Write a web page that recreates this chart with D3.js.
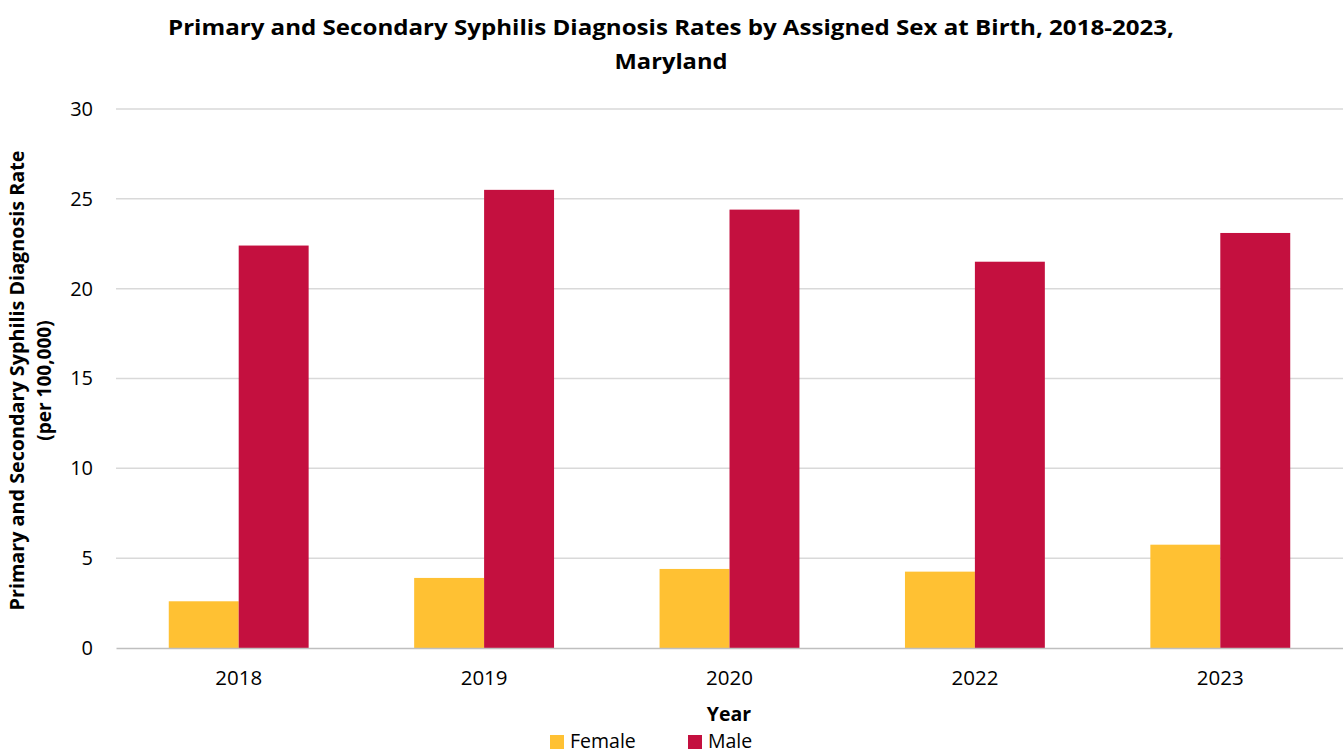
<!DOCTYPE html>
<html>
<head>
<meta charset="utf-8">
<script src="https://cdn.jsdelivr.net/npm/d3@7"></script>
<style>
  body { margin: 0; background: #fff; }
  text { font-family: "Open Sans", sans-serif; fill: #000; }
</style>
</head>
<body>
<script>
// chart data
var years = ["2018", "2019", "2020", "2022", "2023"];
var seriesNames = ["Female", "Male"];
var female = [2.6, 3.9, 4.4, 4.25, 5.75];
var male = [22.4, 25.5, 24.4, 21.5, 23.1];
var yTicks = [0, 5, 10, 15, 20, 25, 30];

var colors = { Female: "#FFC133", Male: "#C4103F" };

var W = 1343, H = 755;
var margin = {top: 109, right: 0, bottom: 107, left: 116};
var w = W - margin.left - margin.right;
var h = H - margin.top - margin.bottom;

var svg = d3.select("body").append("svg")
    .attr("width", W)
    .attr("height", H);

var g = svg.append("g")
    .attr("transform", "translate(" + margin.left + "," + margin.top + ")");

var yScale = d3.scaleLinear().domain([0, 30]).range([h, 0]);
var xScale = d3.scaleBand().domain(years).range([0, w]).paddingInner(0.43).paddingOuter(0.215);
var xSub = d3.scaleBand().domain(seriesNames).range([0, xScale.bandwidth()]);

// gridlines
g.selectAll(".grid")
  .data(yTicks.filter(function(d) { return d > 0; }))
  .enter().append("line")
    .attr("class", "grid")
    .attr("x1", 0).attr("x2", w)
    .attr("y1", function(d) { return yScale(d); })
    .attr("y2", function(d) { return yScale(d); })
    .attr("stroke", "#d9d9d9")
    .attr("stroke-width", 1.5);

// y axis labels
var yAxis = d3.axisLeft(yScale).tickValues(yTicks).tickSize(0).tickPadding(23);
g.append("g").attr("class", "y-axis").call(yAxis)
  .call(function(s) { s.select(".domain").remove(); })
  .selectAll("text")
    .style("font-size", "20px")
    .attr("fill", "#000");

// bars
var rows = years.map(function(y, i) { return {year: y, Female: female[i], Male: male[i]}; });
g.selectAll(".grp")
  .data(rows)
  .enter().append("g")
    .attr("class", "grp")
    .attr("transform", function(d) { return "translate(" + xScale(d.year) + ",0)"; })
  .selectAll("rect")
  .data(function(d) { return seriesNames.map(function(k) { return {key: k, value: d[k]}; }); })
  .enter().append("rect")
    .attr("x", function(d) { return xSub(d.key); })
    .attr("y", function(d) { return yScale(d.value); })
    .attr("width", xSub.bandwidth())
    .attr("height", function(d) { return h - yScale(d.value); })
    .attr("fill", function(d) { return colors[d.key]; });

// x axis
var xAxis = d3.axisBottom(xScale).tickSize(0).tickPadding(22);
g.append("g").attr("class", "x-axis")
  .attr("transform", "translate(0," + h + ")")
  .call(xAxis)
  .call(function(s) { s.select(".domain").attr("stroke", "#bfbfbf").attr("stroke-width", 1.5); })
  .selectAll("text")
    .style("font-size", "20.5px")
    .attr("fill", "#000");

// title
svg.append("text")
  .attr("x", 671).attr("y", 35)
  .attr("text-anchor", "middle")
  .attr("textLength", 1006).attr("lengthAdjust", "spacingAndGlyphs")
  .style("font-size", "22px").style("font-weight", "700")
  .text("Primary and Secondary Syphilis Diagnosis Rates by Assigned Sex at Birth, 2018-2023,");
svg.append("text")
  .attr("x", 671).attr("y", 69)
  .attr("text-anchor", "middle")
  .attr("textLength", 113).attr("lengthAdjust", "spacingAndGlyphs")
  .style("font-size", "22px").style("font-weight", "700")
  .text("Maryland");

// y axis title
var yt = svg.append("text")
  .attr("transform", "translate(24," + (margin.top + h / 2 + 2) + ") rotate(-90)")
  .attr("text-anchor", "middle")
  .style("font-size", "19px").style("font-weight", "700");
yt.append("tspan").attr("x", 0).attr("dy", 0)
  .attr("textLength", 460).attr("lengthAdjust", "spacingAndGlyphs")
  .text("Primary and Secondary Syphilis Diagnosis Rate");
yt.append("tspan").attr("x", 0).attr("dy", 27).text("(per 100,000)");

// x axis title
svg.append("text")
  .attr("x", 729).attr("y", 721)
  .attr("text-anchor", "middle")
  .style("font-size", "19.5px").style("font-weight", "700")
  .text("Year");

// legend
var legX = [550, 688];
var leg = svg.selectAll(".leg")
  .data(seriesNames)
  .enter().append("g")
    .attr("class", "leg")
    .attr("transform", function(d, i) { return "translate(" + legX[i] + ",735)"; });
leg.append("rect").attr("width", 14).attr("height", 14)
  .attr("fill", function(d) { return colors[d]; });
leg.append("text").attr("x", 20).attr("y", 13)
  .style("font-size", "19.5px")
  .text(function(d) { return d; });
</script>
</body>
</html>
